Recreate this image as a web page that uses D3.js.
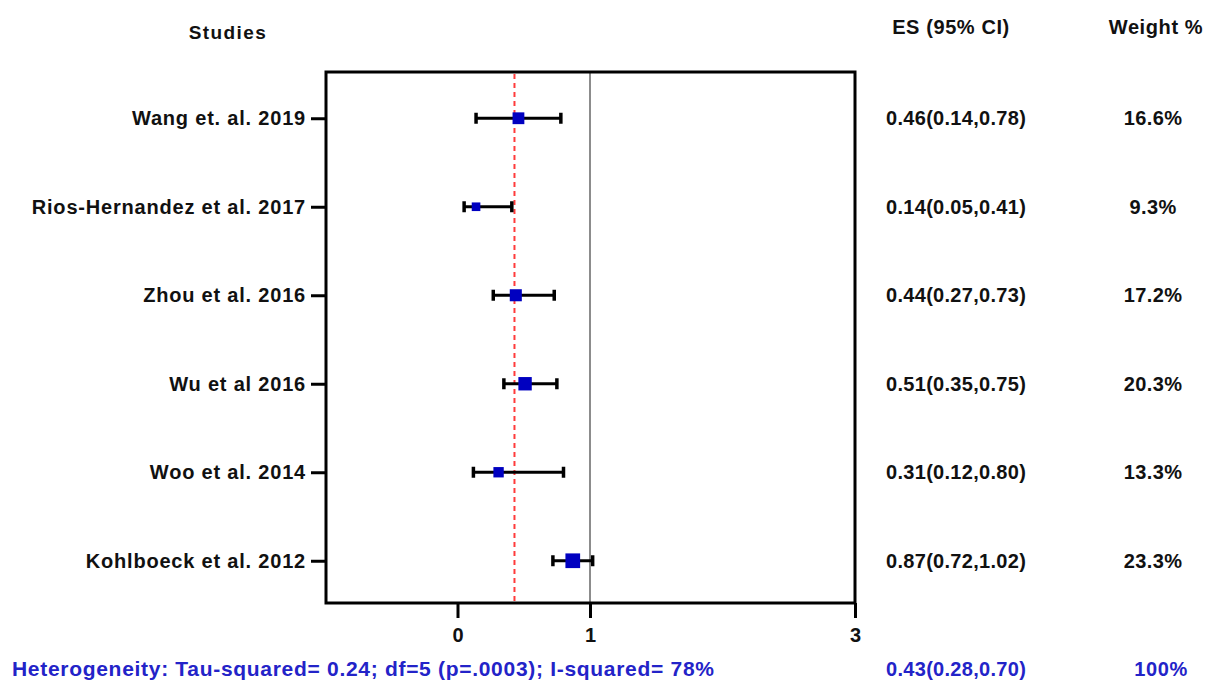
<!DOCTYPE html>
<html>
<head>
  <style>
    body { margin: 0; background: #fff; }
    text { font-family: Arial, "Liberation Sans", sans-serif; font-weight: bold; }
  </style>
  <title>Forest plot</title>
  <script src="https://cdn.jsdelivr.net/npm/d3@7"></script>
</head>
<body>
<script>
  // Study data
  const studies = ["Wang et. al. 2019", "Rios-Hernandez et al. 2017", "Zhou et al. 2016",
                   "Wu et al 2016", "Woo et al. 2014", "Kohlboeck et al. 2012"];
  const es      = [0.46, 0.14, 0.44, 0.51, 0.31, 0.87];
  const lower   = [0.14, 0.05, 0.27, 0.35, 0.12, 0.72];
  const upper   = [0.78, 0.41, 0.73, 0.75, 0.80, 1.02];
  const weights = [16.6, 9.3, 17.2, 20.3, 13.3, 23.3];
  const xTicks  = [0, 1, 3];
  const pooled  = {es: 0.43, lo: 0.28, hi: 0.70};
  const heterogeneity = "Heterogeneity: Tau-squared= 0.24; df=5 (p=.0003); I-squared= 78%";

  const width = 1206, height = 682;
  const box = {left: 326, right: 855, top: 72, bottom: 603};
  const blue = "#2323c8";

  const svg = d3.select("body").append("svg")
      .attr("width", width)
      .attr("height", height);

  const x = d3.scaleLinear().domain([-1, 3]).range([box.left - 1, box.right]);
  const y = d3.scalePoint().domain(studies).range([box.top + 2, box.bottom + 2]).padding(0.5);
  const size = d3.scaleLinear().domain([9, 24]).range([8.5, 15]);

  const rows = studies.map((s, i) => ({name: s, es: es[i], lo: lower[i], hi: upper[i], w: weights[i]}));

  // reference lines
  svg.append("line")
      .attr("x1", x(1)).attr("x2", x(1))
      .attr("y1", box.top).attr("y2", box.bottom)
      .attr("stroke", "#8c8c8c").attr("stroke-width", 2);

  svg.append("line")
      .attr("x1", x(pooled.es)).attr("x2", x(pooled.es))
      .attr("y1", box.top + 2).attr("y2", box.bottom)
      .attr("stroke", "#ff3b3b").attr("stroke-width", 2)
      .attr("stroke-dasharray", "5,4");

  // frame
  svg.append("rect")
      .attr("x", box.left).attr("y", box.top)
      .attr("width", box.right - box.left).attr("height", box.bottom - box.top)
      .attr("fill", "none").attr("stroke", "#000").attr("stroke-width", 3);

  // y axis with study labels
  const yAxis = svg.append("g")
      .attr("transform", "translate(" + box.left + ",0)")
      .call(d3.axisLeft(y).tickSize(15).tickPadding(5));
  yAxis.select(".domain").remove();
  yAxis.selectAll("line").attr("stroke", "#000").attr("stroke-width", 3);
  yAxis.selectAll("text")
      .attr("fill", "#111")
      .style("font-size", "20px")
      .style("letter-spacing", "0.8px")
      .style("font-family", "Arial, 'Liberation Sans', sans-serif");

  // x axis
  const xAxis = svg.append("g")
      .attr("transform", "translate(0," + box.bottom + ")")
      .call(d3.axisBottom(x).tickValues(xTicks).tickSize(15).tickPadding(10).tickFormat(d3.format("d")));
  xAxis.select(".domain").remove();
  xAxis.selectAll("line").attr("stroke", "#000").attr("stroke-width", 3);
  xAxis.selectAll("text")
      .attr("fill", "#111")
      .style("font-size", "20px")
      .style("font-family", "Arial, 'Liberation Sans', sans-serif");

  // error bars
  const g = svg.append("g");
  g.selectAll(".ci").data(rows).enter().append("line")
      .attr("x1", d => x(d.lo)).attr("x2", d => x(d.hi))
      .attr("y1", d => y(d.name)).attr("y2", d => y(d.name))
      .attr("stroke", "#000").attr("stroke-width", 3);
  ["lo", "hi"].forEach(k => {
    g.selectAll(".cap-" + k).data(rows).enter().append("line")
        .attr("x1", d => x(d[k])).attr("x2", d => x(d[k]))
        .attr("y1", d => y(d.name) - 5.5).attr("y2", d => y(d.name) + 5.5)
        .attr("stroke", "#000").attr("stroke-width", 3.5);
  });
  g.selectAll(".pt").data(rows).enter().append("rect")
      .attr("x", d => x(d.es) - size(d.w) / 2)
      .attr("y", d => y(d.name) - size(d.w) / 2)
      .attr("width", d => size(d.w)).attr("height", d => size(d.w))
      .attr("fill", "#0000c0");

  // right-hand columns
  const fmt = d3.format(".2f");
  svg.selectAll(".es").data(rows).enter().append("text")
      .attr("x", 886).attr("y", d => y(d.name) + 7)
      .style("font-size", "20px").style("letter-spacing", "0.3px")
      .attr("fill", "#111")
      .text(d => fmt(d.es) + "(" + fmt(d.lo) + "," + fmt(d.hi) + ")");

  svg.selectAll(".wt").data(rows).enter().append("text")
      .attr("x", 1153).attr("y", d => y(d.name) + 7)
      .attr("text-anchor", "middle")
      .style("font-size", "20px").style("letter-spacing", "0.4px")
      .attr("fill", "#111")
      .text(d => d.w.toFixed(1) + "%");

  // headers
  svg.append("text").attr("x", 228).attr("y", 39).attr("text-anchor", "middle")
      .style("font-size", "19px").style("letter-spacing", "1.4px").attr("fill", "#111").text("Studies");
  svg.append("text").attr("x", 951).attr("y", 34).attr("text-anchor", "middle")
      .style("font-size", "20px").style("letter-spacing", "0.6px").attr("fill", "#111").text("ES (95% CI)");
  svg.append("text").attr("x", 1156).attr("y", 34).attr("text-anchor", "middle")
      .style("font-size", "20px").style("letter-spacing", "0.6px").attr("fill", "#111").text("Weight %");

  // pooled summary
  svg.append("text").attr("x", 12).attr("y", 676)
      .style("font-size", "21px").style("letter-spacing", "0.7px").attr("fill", blue)
      .text(heterogeneity);
  svg.append("text").attr("x", 886).attr("y", 676)
      .style("font-size", "20px").style("letter-spacing", "0.3px").attr("fill", blue)
      .text(fmt(pooled.es) + "(" + fmt(pooled.lo) + "," + fmt(pooled.hi) + ")");
  svg.append("text").attr("x", 1161).attr("y", 676).attr("text-anchor", "middle")
      .style("font-size", "20px").style("letter-spacing", "0.6px").attr("fill", blue)
      .text("100%");
</script>
</body>
</html>
